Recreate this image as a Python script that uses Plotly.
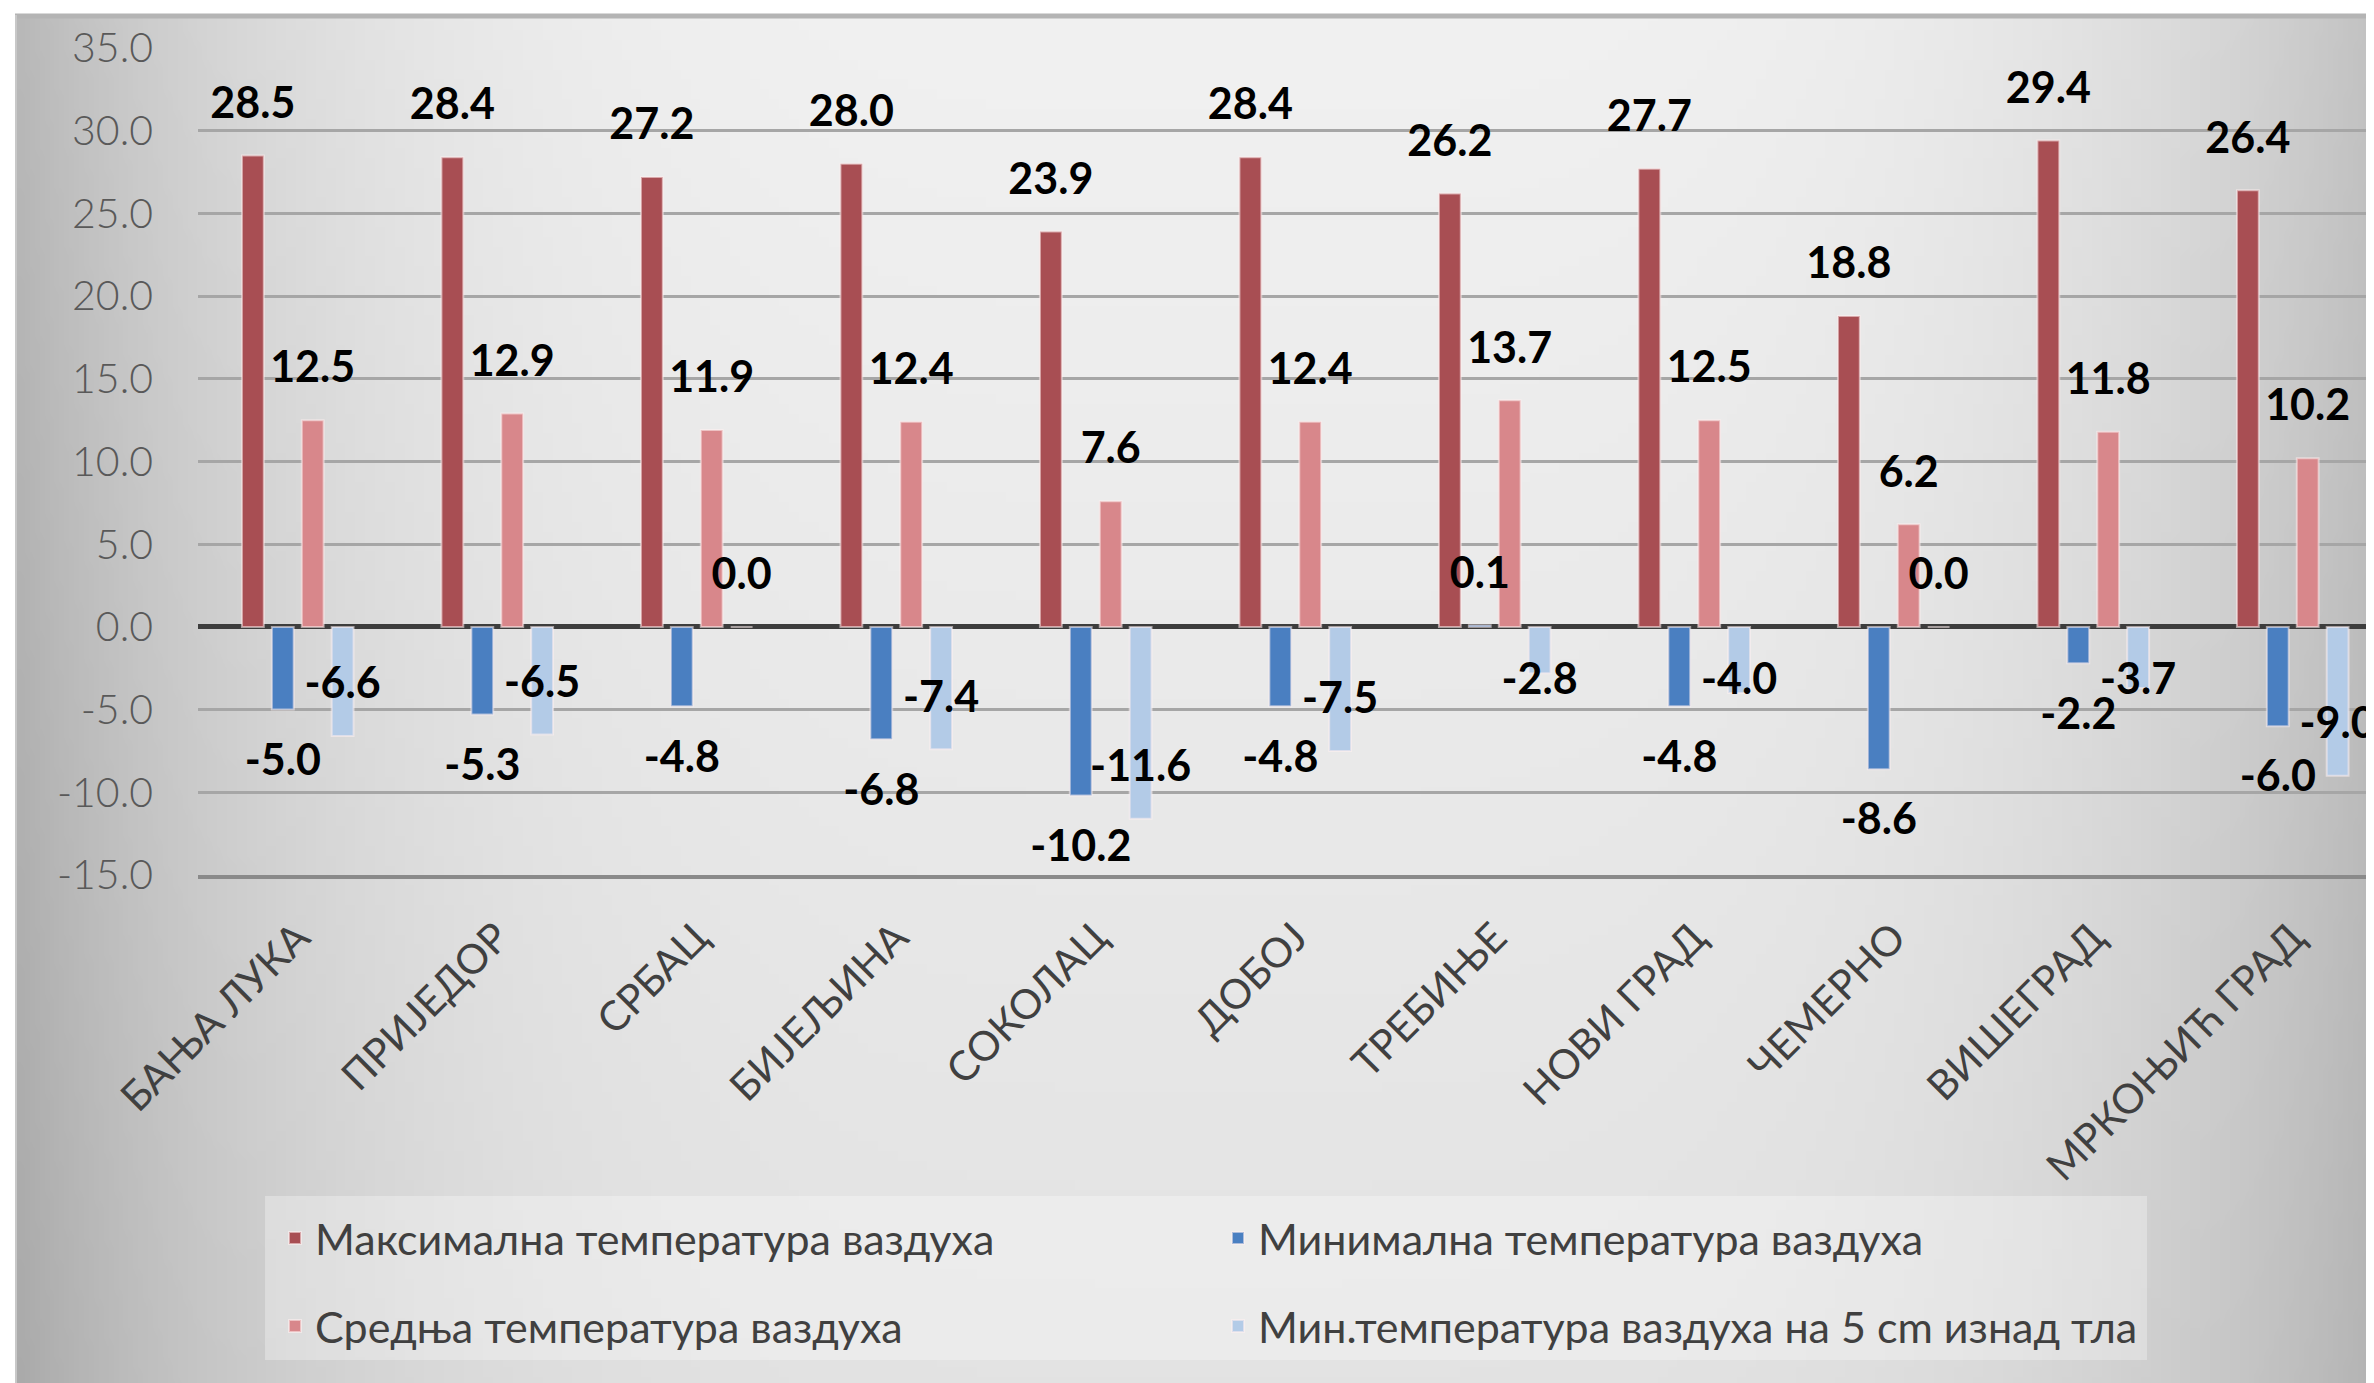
import base64
import struct
import zlib

import numpy as np
import plotly.graph_objects as go

# ---------------- data ----------------
CATEGORIES = ["БАЊА ЛУКА", "ПРИЈЕДОР", "СРБАЦ", "БИЈЕЉИНА", "СОКОЛАЦ", "ДОБОЈ",
              "ТРЕБИЊЕ", "НОВИ ГРАД", "ЧЕМЕРНО", "ВИШЕГРАД", "МРКОЊИЋ ГРАД"]
MAX_T = [28.5, 28.4, 27.2, 28.0, 23.9, 28.4, 26.2, 27.7, 18.8, 29.4, 26.4]
MIN_T = [-5.0, -5.3, -4.8, -6.8, -10.2, -4.8, 0.1, -4.8, -8.6, -2.2, -6.0]
MEAN_T = [12.5, 12.9, 11.9, 12.4, 7.6, 12.4, 13.7, 12.5, 6.2, 11.8, 10.2]
MIN5_T = [-6.6, -6.5, 0.0, -7.4, -11.6, -7.5, -2.8, -4.0, 0.0, -3.7, -9.0]
SERIES_NAMES = ["Максимална температура ваздуха", "Минимална температура ваздуха",
                "Средња температура ваздуха", "Мин.температура ваздуха на 5 cm изнад тла"]
Y_TICKS = [-15, -10, -5, 0, 5, 10, 15, 20, 25, 30, 35]
Y_TICK_LABELS = ["-15.0", "-10.0", "-5.0", "0.0", "5.0", "10.0", "15.0", "20.0", "25.0", "30.0", "35.0"]

# ---------------- layout geometry ----------------
SCREEN_W, SCREEN_H = 2374, 1383
OFF = 8  # page body margin
W, H = SCREEN_W, SCREEN_H
PLOT_LEFT, PLOT_TOP, PLOT_BOTTOM = 198, 48, 875  # screen px
ML = PLOT_LEFT - OFF
MT = PLOT_TOP - OFF
PH = PLOT_BOTTOM - PLOT_TOP
MB = H - MT - PH
MR = 0
PW = W - ML - MR
CAT_PX = 199.5
X_RANGE = [-0.5, -0.5 + PW / CAT_PX]
BARGAP, BARGROUPGAP = 0.4, 0.27
SLOT = (1 - BARGAP) / 4


def px2x(px):
    return (px - OFF - ML) / PW


def px2y(py):
    return (MT + PH - (py - OFF)) / PH


COLORS = ["#A84E53", "#4A7FC1", "#D8878B", "#B3CBE7"]
FONT = "Lato"

xs = list(range(len(CATEGORIES)))
series = [MAX_T, MIN_T, MEAN_T, MIN5_T]
legends = ["legend", "legend", "legend2", "legend2"]

fig = go.Figure()
for k, (vals, name, col, lg) in enumerate(zip(series, SERIES_NAMES, COLORS, legends)):
    fig.add_trace(go.Bar(
        x=xs, y=vals, name=name, legend=lg,
        marker=dict(color=col, line=dict(color="rgba(255,240,240,0.55)", width=2)),
        hoverinfo="skip",
    ))


# label positions (Excel-like placement rules)
def label_y(v, k):
    if v >= 0:
        return v + 2.93
    if k == 3:
        return min(v + 2.93, -3.4)
    return v - 3.3


for k, vals in enumerate(series):
    fig.add_trace(go.Scatter(
        x=[i + (k - 1.5) * SLOT for i in xs],
        y=[label_y(v, k) for v in vals],
        mode="text",
        text=[f"{v:.1f}" for v in vals],
        textposition="middle center",
        textfont=dict(family=FONT, size=43, color="#000000", weight="bold"),
        showlegend=False, hoverinfo="skip", cliponaxis=False,
    ))


# ---------------- background gradient (style) ----------------
def gray_png(arr):
    h, w = arr.shape
    raw = b"".join(b"\x00" + arr[r].tobytes() for r in range(h))

    def chunk(t, d):
        c = struct.pack(">I", len(d)) + t + d
        return c + struct.pack(">I", zlib.crc32(t + d) & 0xFFFFFFFF)

    png = (b"\x89PNG\r\n\x1a\n"
           + chunk(b"IHDR", struct.pack(">IIBBBBB", w, h, 8, 0, 0, 0, 0))
           + chunk(b"IDAT", zlib.compress(raw))
           + chunk(b"IEND", b""))
    return "data:image/png;base64," + base64.b64encode(png).decode()


BW, BH = 240, 140
u = np.linspace(0, 1, BW)[None, :]
v = np.linspace(0, 1, BH)[:, None]
edge = np.abs(2 * u - 1.02)
shade = 241 - 14 * v - 52 * edge ** 4
bg = np.clip(shade, 0, 255).astype(np.uint8)

fig.add_layout_image(dict(
    source=gray_png(bg), xref="paper", yref="paper",
    x=px2x(15), y=px2y(15), sizex=(SCREEN_W + OFF - 15) / PW, sizey=(SCREEN_H + OFF - 15) / PH,
    xanchor="left", yanchor="top", sizing="stretch", layer="below", opacity=1,
))

shapes = [
    # legend box
    dict(type="rect", xref="paper", yref="paper", layer="below",
         x0=px2x(265), x1=px2x(2147), y0=px2y(1360), y1=px2y(1196),
         fillcolor="rgba(255,255,255,0.30)", line=dict(width=0)),
    # chart border top / left
    dict(type="line", xref="paper", yref="paper", layer="below",
         x0=px2x(15), x1=px2x(SCREEN_W + OFF), y0=px2y(16), y1=px2y(16),
         line=dict(color="#b4b4b4", width=5)),
    dict(type="line", xref="paper", yref="paper", layer="below",
         x0=px2x(16), x1=px2x(16), y0=px2y(15), y1=px2y(SCREEN_H + OFF),
         line=dict(color="#c8c8c8", width=2)),
]

legend_common = dict(
    orientation="h", xanchor="left", yanchor="middle",
    entrywidth=898, entrywidthmode="pixels", bgcolor="rgba(0,0,0,0)",
    font=dict(family=FONT, size=43, color="#404040"), itemwidth=30,
    traceorder="normal", itemclick=False, itemdoubleclick=False,
)

fig.update_layout(
    width=W, height=H,
    margin=dict(l=ML, r=MR, t=MT, b=MB, autoexpand=False),
    paper_bgcolor="#ffffff", plot_bgcolor="rgba(0,0,0,0)",
    barmode="group", bargap=BARGAP, bargroupgap=BARGROUPGAP,
    shapes=shapes,
    legend=dict(legend_common, x=px2x(275), y=px2y(1238)),
    legend2=dict(legend_common, x=px2x(275), y=px2y(1326)),
    xaxis=dict(
        range=X_RANGE, tickmode="array", tickvals=xs, ticktext=CATEGORIES,
        tickangle=-45, showgrid=False, zeroline=False,
        showline=True, linecolor="#8a8a8a", linewidth=4,
        ticks="", ticklabelstandoff=18, automargin=False,
        tickfont=dict(family=FONT, size=41, color="#404040"),
    ),
    yaxis=dict(
        range=[-15, 35], tickmode="array", tickvals=Y_TICKS, ticktext=Y_TICK_LABELS,
        showgrid=True, gridcolor="#a6a6a6", gridwidth=3,
        zeroline=True, zerolinecolor="#3d3d3d", zerolinewidth=5,
        ticks="", ticklabelstandoff=44, automargin=False,
        tickfont=dict(family=FONT, size=41, color="#595959", weight=300),
    ),
)

fig.write_html("out.html")
